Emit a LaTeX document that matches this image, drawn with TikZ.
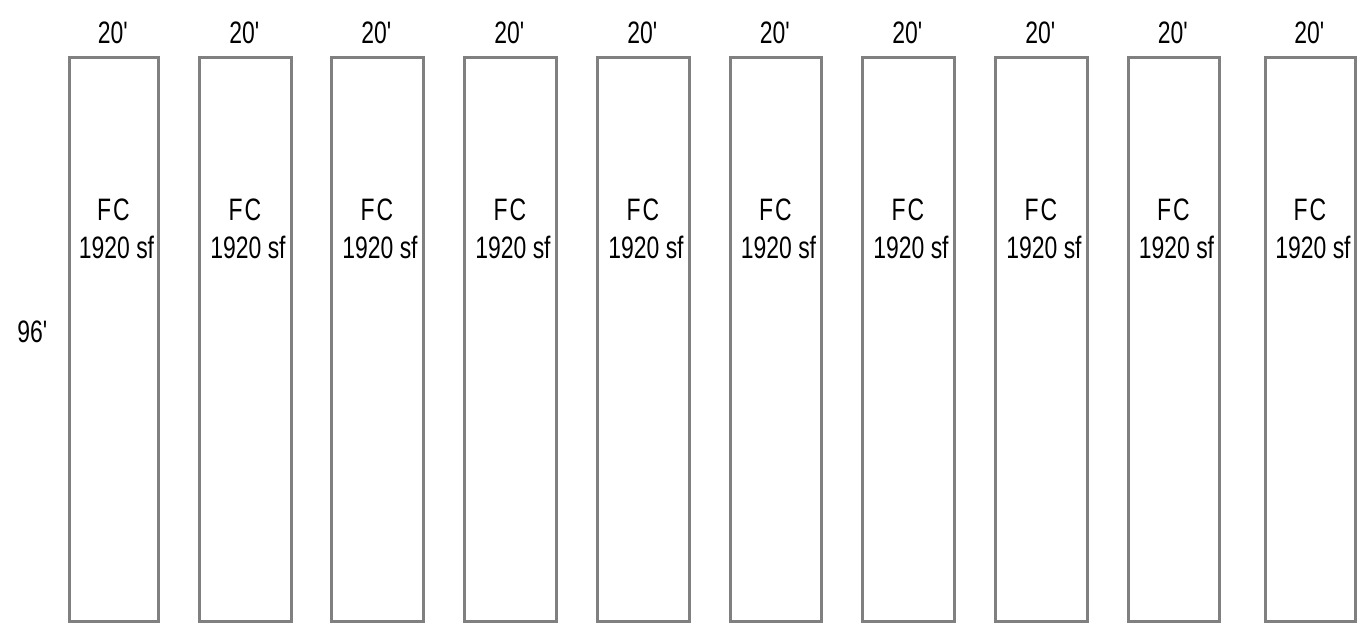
\documentclass[tikz,border=0pt]{standalone}
\usepackage{fontspec}
\setmainfont{Liberation Sans}[FakeStretch=0.74]
\begin{document}
\begin{tikzpicture}[x=1pt,y=-1pt,
  lot/.style={draw=black!50,line width=3pt},
  lbl/.style={font=\fontsize{31}{31}\selectfont,inner sep=0pt,anchor=center}]
\useasboundingbox (0,0) rectangle (1363,625);
\foreach \i/\l/\r in {1/69/158,2/199/291,3/331/423,4/464/556,5/597/689,6/730/821,7/862/954,8/995/1087,9/1128/1219,10/1265/1355}{
  \draw[lot] (\l,57) rectangle (\r,621);
  \node[lbl] (w\i) at ({(\l+\r)/2},33) {20\textquotesingle};
  \node[lbl] (fc\i) at ({(\l+\r)/2},210) {F\kern2pt C};
  \node[lbl] (sf\i) at ({(\l+\r)/2+3},247) {1920 sf};
}
\node[lbl] (d) at (33,332) {96\textquotesingle};
\end{tikzpicture}
\end{document}
